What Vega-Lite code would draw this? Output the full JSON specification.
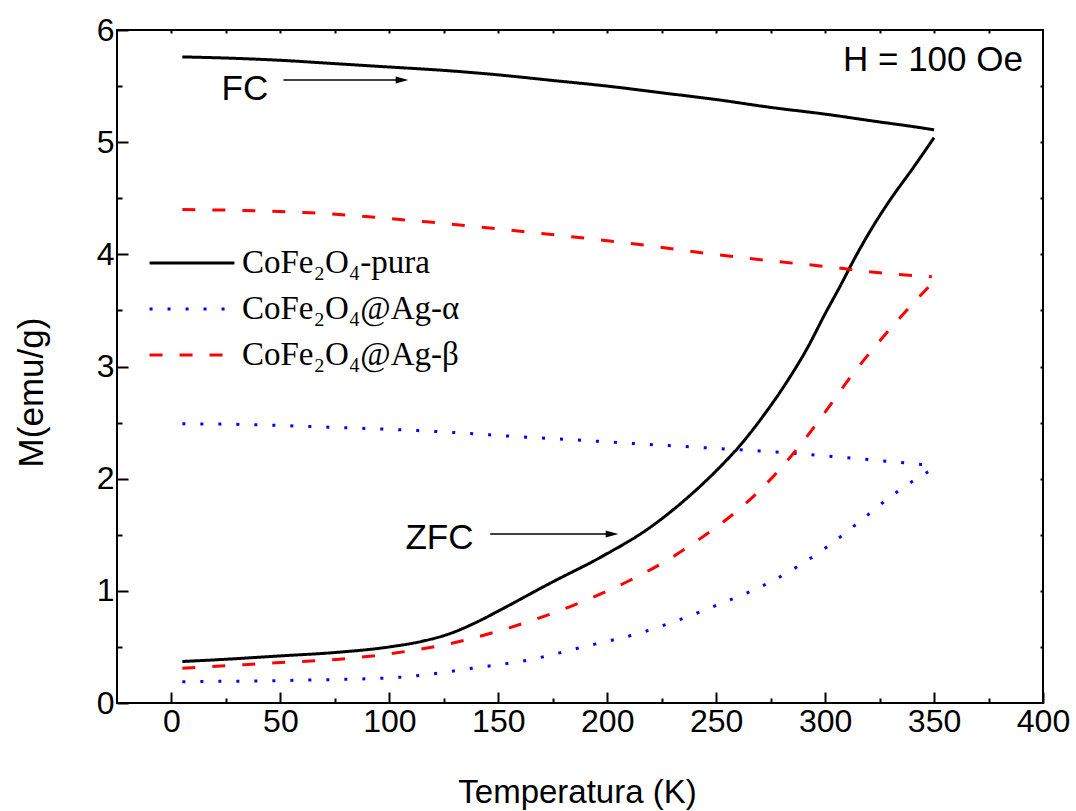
{
  "$schema": "https://vega.github.io/schema/vega-lite/v6.json",
  "width": 926,
  "height": 673,
  "autosize": {"type": "none"},
  "padding": {"left": 117, "top": 30, "right": 33, "bottom": 108},
  "background": "white",
  "config": {
    "view": {"stroke": "black", "strokeWidth": 2},
    "axis": {"grid": false, "domain": false, "tickColor": "black", "tickWidth": 2, "labelColor": "black", "labelFont": "Liberation Sans", "labelFontSize": 32, "titleFont": "Liberation Sans", "titleFontSize": 33, "titleFontWeight": "normal", "titleColor": "black", "labelFlush": false, "labelOverlap": false, "labelBound": false}
  },
  "datasets": {
    "curves": [
      {"s": "CoFe₂O₄-pura", "b": "FC", "T": 5, "M": 5.76},
      {"s": "CoFe₂O₄-pura", "b": "FC", "T": 25, "M": 5.75},
      {"s": "CoFe₂O₄-pura", "b": "FC", "T": 50, "M": 5.73},
      {"s": "CoFe₂O₄-pura", "b": "FC", "T": 75, "M": 5.70},
      {"s": "CoFe₂O₄-pura", "b": "FC", "T": 100, "M": 5.67},
      {"s": "CoFe₂O₄-pura", "b": "FC", "T": 125, "M": 5.64},
      {"s": "CoFe₂O₄-pura", "b": "FC", "T": 150, "M": 5.60},
      {"s": "CoFe₂O₄-pura", "b": "FC", "T": 175, "M": 5.55},
      {"s": "CoFe₂O₄-pura", "b": "FC", "T": 200, "M": 5.50},
      {"s": "CoFe₂O₄-pura", "b": "FC", "T": 225, "M": 5.44},
      {"s": "CoFe₂O₄-pura", "b": "FC", "T": 250, "M": 5.38},
      {"s": "CoFe₂O₄-pura", "b": "FC", "T": 275, "M": 5.31},
      {"s": "CoFe₂O₄-pura", "b": "FC", "T": 300, "M": 5.25},
      {"s": "CoFe₂O₄-pura", "b": "FC", "T": 325, "M": 5.18},
      {"s": "CoFe₂O₄-pura", "b": "FC", "T": 340, "M": 5.14},
      {"s": "CoFe₂O₄-pura", "b": "FC", "T": 350, "M": 5.11},
      {"s": "CoFe₂O₄-pura", "b": "ZFC", "T": 5, "M": 0.37},
      {"s": "CoFe₂O₄-pura", "b": "ZFC", "T": 25, "M": 0.39},
      {"s": "CoFe₂O₄-pura", "b": "ZFC", "T": 50, "M": 0.42},
      {"s": "CoFe₂O₄-pura", "b": "ZFC", "T": 75, "M": 0.45},
      {"s": "CoFe₂O₄-pura", "b": "ZFC", "T": 100, "M": 0.50},
      {"s": "CoFe₂O₄-pura", "b": "ZFC", "T": 115, "M": 0.55},
      {"s": "CoFe₂O₄-pura", "b": "ZFC", "T": 128, "M": 0.62},
      {"s": "CoFe₂O₄-pura", "b": "ZFC", "T": 140, "M": 0.72},
      {"s": "CoFe₂O₄-pura", "b": "ZFC", "T": 151, "M": 0.83},
      {"s": "CoFe₂O₄-pura", "b": "ZFC", "T": 174, "M": 1.07},
      {"s": "CoFe₂O₄-pura", "b": "ZFC", "T": 197, "M": 1.30},
      {"s": "CoFe₂O₄-pura", "b": "ZFC", "T": 220, "M": 1.57},
      {"s": "CoFe₂O₄-pura", "b": "ZFC", "T": 235, "M": 1.80},
      {"s": "CoFe₂O₄-pura", "b": "ZFC", "T": 250, "M": 2.07},
      {"s": "CoFe₂O₄-pura", "b": "ZFC", "T": 262, "M": 2.32},
      {"s": "CoFe₂O₄-pura", "b": "ZFC", "T": 272, "M": 2.57},
      {"s": "CoFe₂O₄-pura", "b": "ZFC", "T": 282, "M": 2.85},
      {"s": "CoFe₂O₄-pura", "b": "ZFC", "T": 292, "M": 3.17},
      {"s": "CoFe₂O₄-pura", "b": "ZFC", "T": 300, "M": 3.47},
      {"s": "CoFe₂O₄-pura", "b": "ZFC", "T": 307, "M": 3.72},
      {"s": "CoFe₂O₄-pura", "b": "ZFC", "T": 314, "M": 3.98},
      {"s": "CoFe₂O₄-pura", "b": "ZFC", "T": 322, "M": 4.25},
      {"s": "CoFe₂O₄-pura", "b": "ZFC", "T": 330, "M": 4.49},
      {"s": "CoFe₂O₄-pura", "b": "ZFC", "T": 340, "M": 4.76},
      {"s": "CoFe₂O₄-pura", "b": "ZFC", "T": 350, "M": 5.04},
      {"s": "CoFe₂O₄@Ag-α", "b": "FC", "T": 5, "M": 2.49},
      {"s": "CoFe₂O₄@Ag-α", "b": "FC", "T": 40, "M": 2.48},
      {"s": "CoFe₂O₄@Ag-α", "b": "FC", "T": 71, "M": 2.46},
      {"s": "CoFe₂O₄@Ag-α", "b": "FC", "T": 100, "M": 2.44},
      {"s": "CoFe₂O₄@Ag-α", "b": "FC", "T": 122, "M": 2.42},
      {"s": "CoFe₂O₄@Ag-α", "b": "FC", "T": 163, "M": 2.37},
      {"s": "CoFe₂O₄@Ag-α", "b": "FC", "T": 190, "M": 2.34},
      {"s": "CoFe₂O₄@Ag-α", "b": "FC", "T": 215, "M": 2.31},
      {"s": "CoFe₂O₄@Ag-α", "b": "FC", "T": 250, "M": 2.27},
      {"s": "CoFe₂O₄@Ag-α", "b": "FC", "T": 283, "M": 2.23},
      {"s": "CoFe₂O₄@Ag-α", "b": "FC", "T": 320, "M": 2.17},
      {"s": "CoFe₂O₄@Ag-α", "b": "FC", "T": 348, "M": 2.12},
      {"s": "CoFe₂O₄@Ag-α", "b": "ZFC", "T": 5, "M": 0.19},
      {"s": "CoFe₂O₄@Ag-α", "b": "ZFC", "T": 50, "M": 0.20},
      {"s": "CoFe₂O₄@Ag-α", "b": "ZFC", "T": 77, "M": 0.21},
      {"s": "CoFe₂O₄@Ag-α", "b": "ZFC", "T": 105, "M": 0.23},
      {"s": "CoFe₂O₄@Ag-α", "b": "ZFC", "T": 120, "M": 0.26},
      {"s": "CoFe₂O₄@Ag-α", "b": "ZFC", "T": 138, "M": 0.31},
      {"s": "CoFe₂O₄@Ag-α", "b": "ZFC", "T": 163, "M": 0.38},
      {"s": "CoFe₂O₄@Ag-α", "b": "ZFC", "T": 189, "M": 0.50},
      {"s": "CoFe₂O₄@Ag-α", "b": "ZFC", "T": 216, "M": 0.63},
      {"s": "CoFe₂O₄@Ag-α", "b": "ZFC", "T": 241, "M": 0.80},
      {"s": "CoFe₂O₄@Ag-α", "b": "ZFC", "T": 250, "M": 0.87},
      {"s": "CoFe₂O₄@Ag-α", "b": "ZFC", "T": 275, "M": 1.08},
      {"s": "CoFe₂O₄@Ag-α", "b": "ZFC", "T": 300, "M": 1.38},
      {"s": "CoFe₂O₄@Ag-α", "b": "ZFC", "T": 316, "M": 1.62},
      {"s": "CoFe₂O₄@Ag-α", "b": "ZFC", "T": 330, "M": 1.84},
      {"s": "CoFe₂O₄@Ag-α", "b": "ZFC", "T": 338, "M": 1.95},
      {"s": "CoFe₂O₄@Ag-α", "b": "ZFC", "T": 349, "M": 2.08},
      {"s": "CoFe₂O₄@Ag-β", "b": "FC", "T": 5, "M": 4.40},
      {"s": "CoFe₂O₄@Ag-β", "b": "FC", "T": 64, "M": 4.37},
      {"s": "CoFe₂O₄@Ag-β", "b": "FC", "T": 117, "M": 4.29},
      {"s": "CoFe₂O₄@Ag-β", "b": "FC", "T": 163, "M": 4.20},
      {"s": "CoFe₂O₄@Ag-β", "b": "FC", "T": 218, "M": 4.08},
      {"s": "CoFe₂O₄@Ag-β", "b": "FC", "T": 249, "M": 4.00},
      {"s": "CoFe₂O₄@Ag-β", "b": "FC", "T": 276, "M": 3.94},
      {"s": "CoFe₂O₄@Ag-β", "b": "FC", "T": 301, "M": 3.89},
      {"s": "CoFe₂O₄@Ag-β", "b": "FC", "T": 328, "M": 3.83},
      {"s": "CoFe₂O₄@Ag-β", "b": "FC", "T": 349, "M": 3.80},
      {"s": "CoFe₂O₄@Ag-β", "b": "ZFC", "T": 5, "M": 0.31},
      {"s": "CoFe₂O₄@Ag-β", "b": "ZFC", "T": 50, "M": 0.36},
      {"s": "CoFe₂O₄@Ag-β", "b": "ZFC", "T": 77, "M": 0.39},
      {"s": "CoFe₂O₄@Ag-β", "b": "ZFC", "T": 111, "M": 0.47},
      {"s": "CoFe₂O₄@Ag-β", "b": "ZFC", "T": 128, "M": 0.53},
      {"s": "CoFe₂O₄@Ag-β", "b": "ZFC", "T": 155, "M": 0.67},
      {"s": "CoFe₂O₄@Ag-β", "b": "ZFC", "T": 183, "M": 0.86},
      {"s": "CoFe₂O₄@Ag-β", "b": "ZFC", "T": 210, "M": 1.09},
      {"s": "CoFe₂O₄@Ag-β", "b": "ZFC", "T": 229, "M": 1.29},
      {"s": "CoFe₂O₄@Ag-β", "b": "ZFC", "T": 243, "M": 1.47},
      {"s": "CoFe₂O₄@Ag-β", "b": "ZFC", "T": 255, "M": 1.64},
      {"s": "CoFe₂O₄@Ag-β", "b": "ZFC", "T": 267, "M": 1.84},
      {"s": "CoFe₂O₄@Ag-β", "b": "ZFC", "T": 279, "M": 2.08},
      {"s": "CoFe₂O₄@Ag-β", "b": "ZFC", "T": 291, "M": 2.36},
      {"s": "CoFe₂O₄@Ag-β", "b": "ZFC", "T": 301, "M": 2.62},
      {"s": "CoFe₂O₄@Ag-β", "b": "ZFC", "T": 311, "M": 2.89},
      {"s": "CoFe₂O₄@Ag-β", "b": "ZFC", "T": 323, "M": 3.18},
      {"s": "CoFe₂O₄@Ag-β", "b": "ZFC", "T": 336, "M": 3.47},
      {"s": "CoFe₂O₄@Ag-β", "b": "ZFC", "T": 349, "M": 3.74}
    ],
    "labels": [
      {"t": "FC", "T": 33.7, "M": 5.47},
      {"t": "ZFC", "T": 123, "M": 1.47},
      {"t": "H = 100 Oe", "T": 349.5, "M": 5.73}
    ],
    "arrows": [
      {"T": 51.4, "T2": 106, "Th": 105.8, "M": 5.555},
      {"T": 146.3, "T2": 203, "Th": 202.2, "M": 1.507}
    ]
  },
  "resolve": {"axis": {"x": "independent", "y": "independent"}},
  "layer": [
    {
      "data": {"name": "curves"},
      "mark": {"type": "line", "strokeWidth": 3, "interpolate": "monotone"},
      "encoding": {
        "x": {
          "field": "T", "type": "quantitative",
          "scale": {"domain": [-25, 400], "nice": false, "zero": false},
          "axis": {
            "orient": "bottom",
            "values": [0, 25, 50, 75, 100, 125, 150, 175, 200, 225, 250, 275, 300, 325, 350, 375, 400],
            "labelExpr": "datum.value % 50 === 0 ? datum.label : ''",
            "tickSize": {"condition": {"test": "datum.value % 50 === 0", "value": -11}, "value": -5},
            "labelPadding": 14,
            "title": "Temperatura (K)",
            "titleBaseline": "alphabetic",
            "titleX": 460,
            "titleY": 99
          }
        },
        "y": {
          "field": "M", "type": "quantitative",
          "scale": {"domain": [0, 6], "nice": false, "zero": false},
          "axis": {
            "orient": "left",
            "values": [0, 0.5, 1, 1.5, 2, 2.5, 3, 3.5, 4, 4.5, 5, 5.5, 6],
            "labelExpr": "datum.value % 1 === 0 ? format(datum.value, 'd') : ''",
            "tickSize": {"condition": {"test": "datum.value % 1 === 0", "value": -11}, "value": -5},
            "labelPadding": 14,
            "title": "M(emu/g)",
            "titleFontSize": 35,
            "titleBaseline": "alphabetic",
            "titleX": -75,
            "titleY": 362
          }
        },
        "color": {
          "field": "s", "type": "nominal",
          "scale": {"domain": ["CoFe₂O₄-pura", "CoFe₂O₄@Ag-α", "CoFe₂O₄@Ag-β"], "range": ["#000000", "#0000ff", "#ff0000"]},
          "legend": {
            "orient": "none", "legendX": 46, "legendY": 204, "title": null, "padding": 0,
            "symbolType": "M-1.55,0H1.55", "symbolSize": 3000, "symbolStrokeWidth": 3,
            "labelFont": "Liberation Serif", "labelFontSize": 33, "labelColor": "black",
            "labelOffset": 21, "rowPadding": 0, "labelLimit": 400
          }
        },
        "strokeDash": {
          "field": "s", "type": "nominal",
          "scale": {"domain": ["CoFe₂O₄-pura", "CoFe₂O₄@Ag-α", "CoFe₂O₄@Ag-β"], "range": [[1, 0], [3, 15], [13, 17]]},
          "legend": {
            "orient": "none", "legendX": 46, "legendY": 204, "title": null, "padding": 0,
            "symbolType": "M-1.55,0H1.55", "symbolSize": 3000, "symbolStrokeWidth": 3,
            "labelFont": "Liberation Serif", "labelFontSize": 33, "labelColor": "black",
            "labelOffset": 21, "rowPadding": 0, "labelLimit": 400
          }
        },
        "detail": {"field": "b", "type": "nominal"}
      }
    },
    {
      "data": {"name": "labels"},
      "mark": {"type": "text", "font": "Liberation Sans", "fontSize": 35, "color": "black", "align": "center", "baseline": "middle"},
      "encoding": {
        "x": {
          "field": "T", "type": "quantitative",
          "axis": {
            "orient": "top", "title": null, "labels": false,
            "values": [0, 25, 50, 75, 100, 125, 150, 175, 200, 225, 250, 275, 300, 325, 350, 375],
            "tickSize": -3
          }
        },
        "y": {
          "field": "M", "type": "quantitative",
          "axis": {
            "orient": "right", "title": null, "labels": false,
            "values": [0.5, 1, 1.5, 2, 2.5, 3, 3.5, 4, 4.5, 5, 5.5],
            "tickSize": -3
          }
        },
        "text": {"field": "t", "type": "nominal"}
      }
    },
    {
      "data": {"name": "arrows"},
      "mark": {"type": "rule", "color": "black", "strokeWidth": 1.5},
      "encoding": {
        "x": {"field": "T", "type": "quantitative", "axis": null},
        "x2": {"field": "T2"},
        "y": {"field": "M", "type": "quantitative", "axis": null}
      }
    },
    {
      "data": {"name": "arrows"},
      "mark": {"type": "point", "shape": "M1,0L-1,-0.55L-1,0.55Z", "filled": true, "color": "black", "size": 160, "opacity": 1},
      "encoding": {
        "x": {"field": "Th", "type": "quantitative", "axis": null},
        "y": {"field": "M", "type": "quantitative", "axis": null}
      }
    }
  ]
}
